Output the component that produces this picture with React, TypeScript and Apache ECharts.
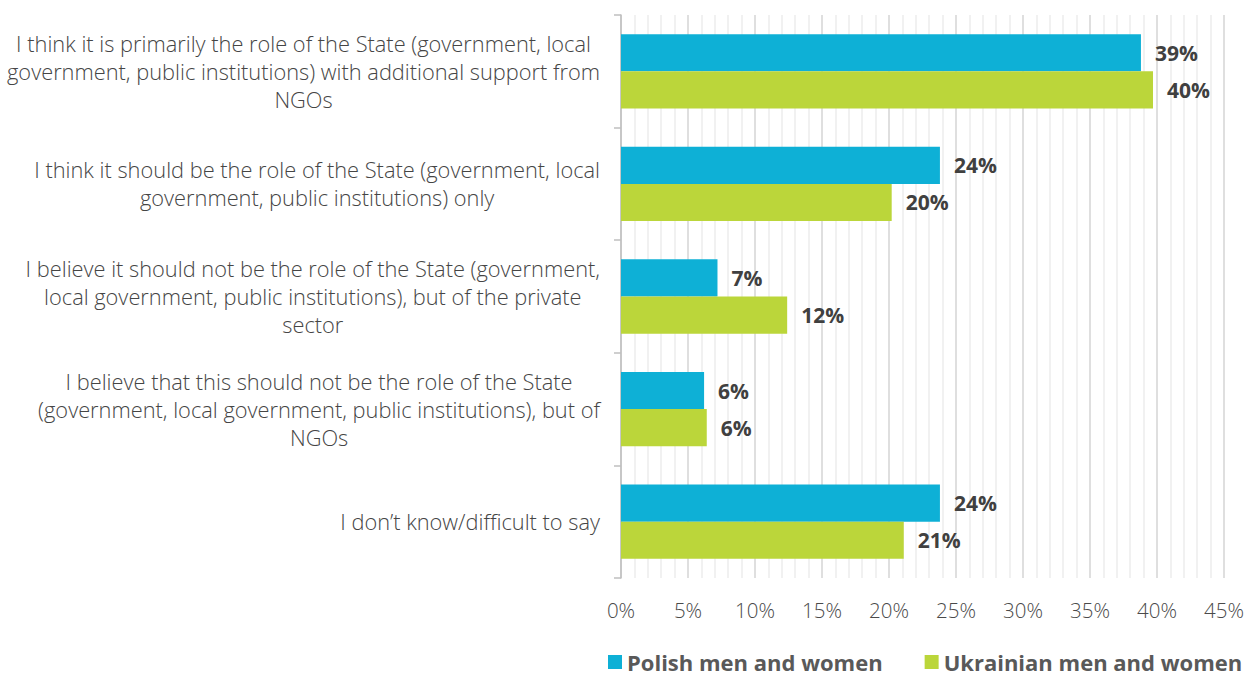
import React, { useEffect, useRef } from "react";
import * as echarts from "echarts";

const categories = [
  "I think it is primarily the role of the State (government, local\ngovernment, public institutions) with additional support from\nNGOs",
  "I think it should be the role of the State (government, local\ngovernment, public institutions) only",
  "I believe it should not be the role of the State (government,\nlocal government, public institutions), but of the private\nsector",
  "I believe that this should not be the role of the State\n(government, local government, public institutions), but of\nNGOs",
  "I don\u2019t know/difficult to say",
];
const seriesNames = ["Polish men and women", "Ukrainian men and women"];
const polish = [38.8, 23.8, 7.2, 6.2, 23.8];
const ukrainian = [39.7, 20.2, 12.4, 6.4, 21.1];
const xTicks = { min: 0, max: 45, interval: 5 };

const FONT = "'Open Sans', Lato, sans-serif";

export default function App() {
  const ref = useRef<HTMLDivElement>(null);
  useEffect(() => {
    const chart = echarts.init(ref.current!, null, { renderer: "svg" });
    const labelCfg = {
      show: true,
      position: "right",
      distance: 14,
      formatter: (p: any) => Math.round(p.value) + "%",
      fontFamily: FONT,
      fontWeight: "bold",
      fontSize: 21,
      color: "#404040",
    };
    chart.setOption({
      animation: false,
      grid: { left: 621, right: 20, top: 15, bottom: 98, containLabel: false },
      legend: {
        data: seriesNames,
        left: 608,
        top: 651,
        width: 700,
        padding: 0,
        orient: "horizontal",
        icon: "rect",
        itemWidth: 14,
        itemHeight: 14,
        itemGap: 42,
        itemTextGap: 7,
        textStyle: { fontFamily: FONT, fontWeight: "bold", fontSize: 22, color: "#595959" },
      },
      xAxis: {
        type: "value",
        min: xTicks.min,
        max: xTicks.max,
        interval: xTicks.interval,
        axisLine: { show: false },
        axisTick: { show: false },
        axisLabel: {
          formatter: "{value}%",
          fontFamily: FONT,
          fontWeight: 300,
          fontSize: 20.5,
          color: "#4a4a4a",
          margin: 21,
        },
        splitLine: { show: true, lineStyle: { color: "#d4d4d4", width: 1.5 } },
        minorTick: { show: false, splitNumber: 5 },
        minorSplitLine: { show: true, lineStyle: { color: "#ededed", width: 1.5 } },
      },
      yAxis: {
        type: "category",
        data: categories,
        inverse: true,
        axisLine: { show: true, lineStyle: { color: "#bfbfbf", width: 1.5 } },
        axisTick: { show: true, length: 7, lineStyle: { color: "#bfbfbf", width: 1.5 } },
        axisLabel: {
          margin: 21,
          align: "right",
          lineHeight: 28,
          formatter: (v: string) => v.split("\n").map((l) => `{c|${l}}`).join("\n"),
          rich: {
            c: {
              align: "center",
              fontFamily: FONT,
              fontWeight: 300,
              fontSize: 21.8,
              color: "#454545",
              lineHeight: 28,
            },
          },
        },
      },
      series: [
        {
          name: seriesNames[0],
          type: "bar",
          data: polish,
          barGap: "0%",
          barCategoryGap: "34%",
          itemStyle: { color: "#0EB0D6" },
          label: labelCfg,
        },
        {
          name: seriesNames[1],
          type: "bar",
          data: ukrainian,
          barGap: "0%",
          barCategoryGap: "34%",
          itemStyle: { color: "#BBD63A" },
          label: labelCfg,
        },
      ],
    });
    return () => chart.dispose();
  }, []);
  return (
    <div
      ref={ref}
      style={{ position: "fixed", left: 0, top: 0, width: 1247, height: 676, background: "#fff" }}
    />
  );
}
